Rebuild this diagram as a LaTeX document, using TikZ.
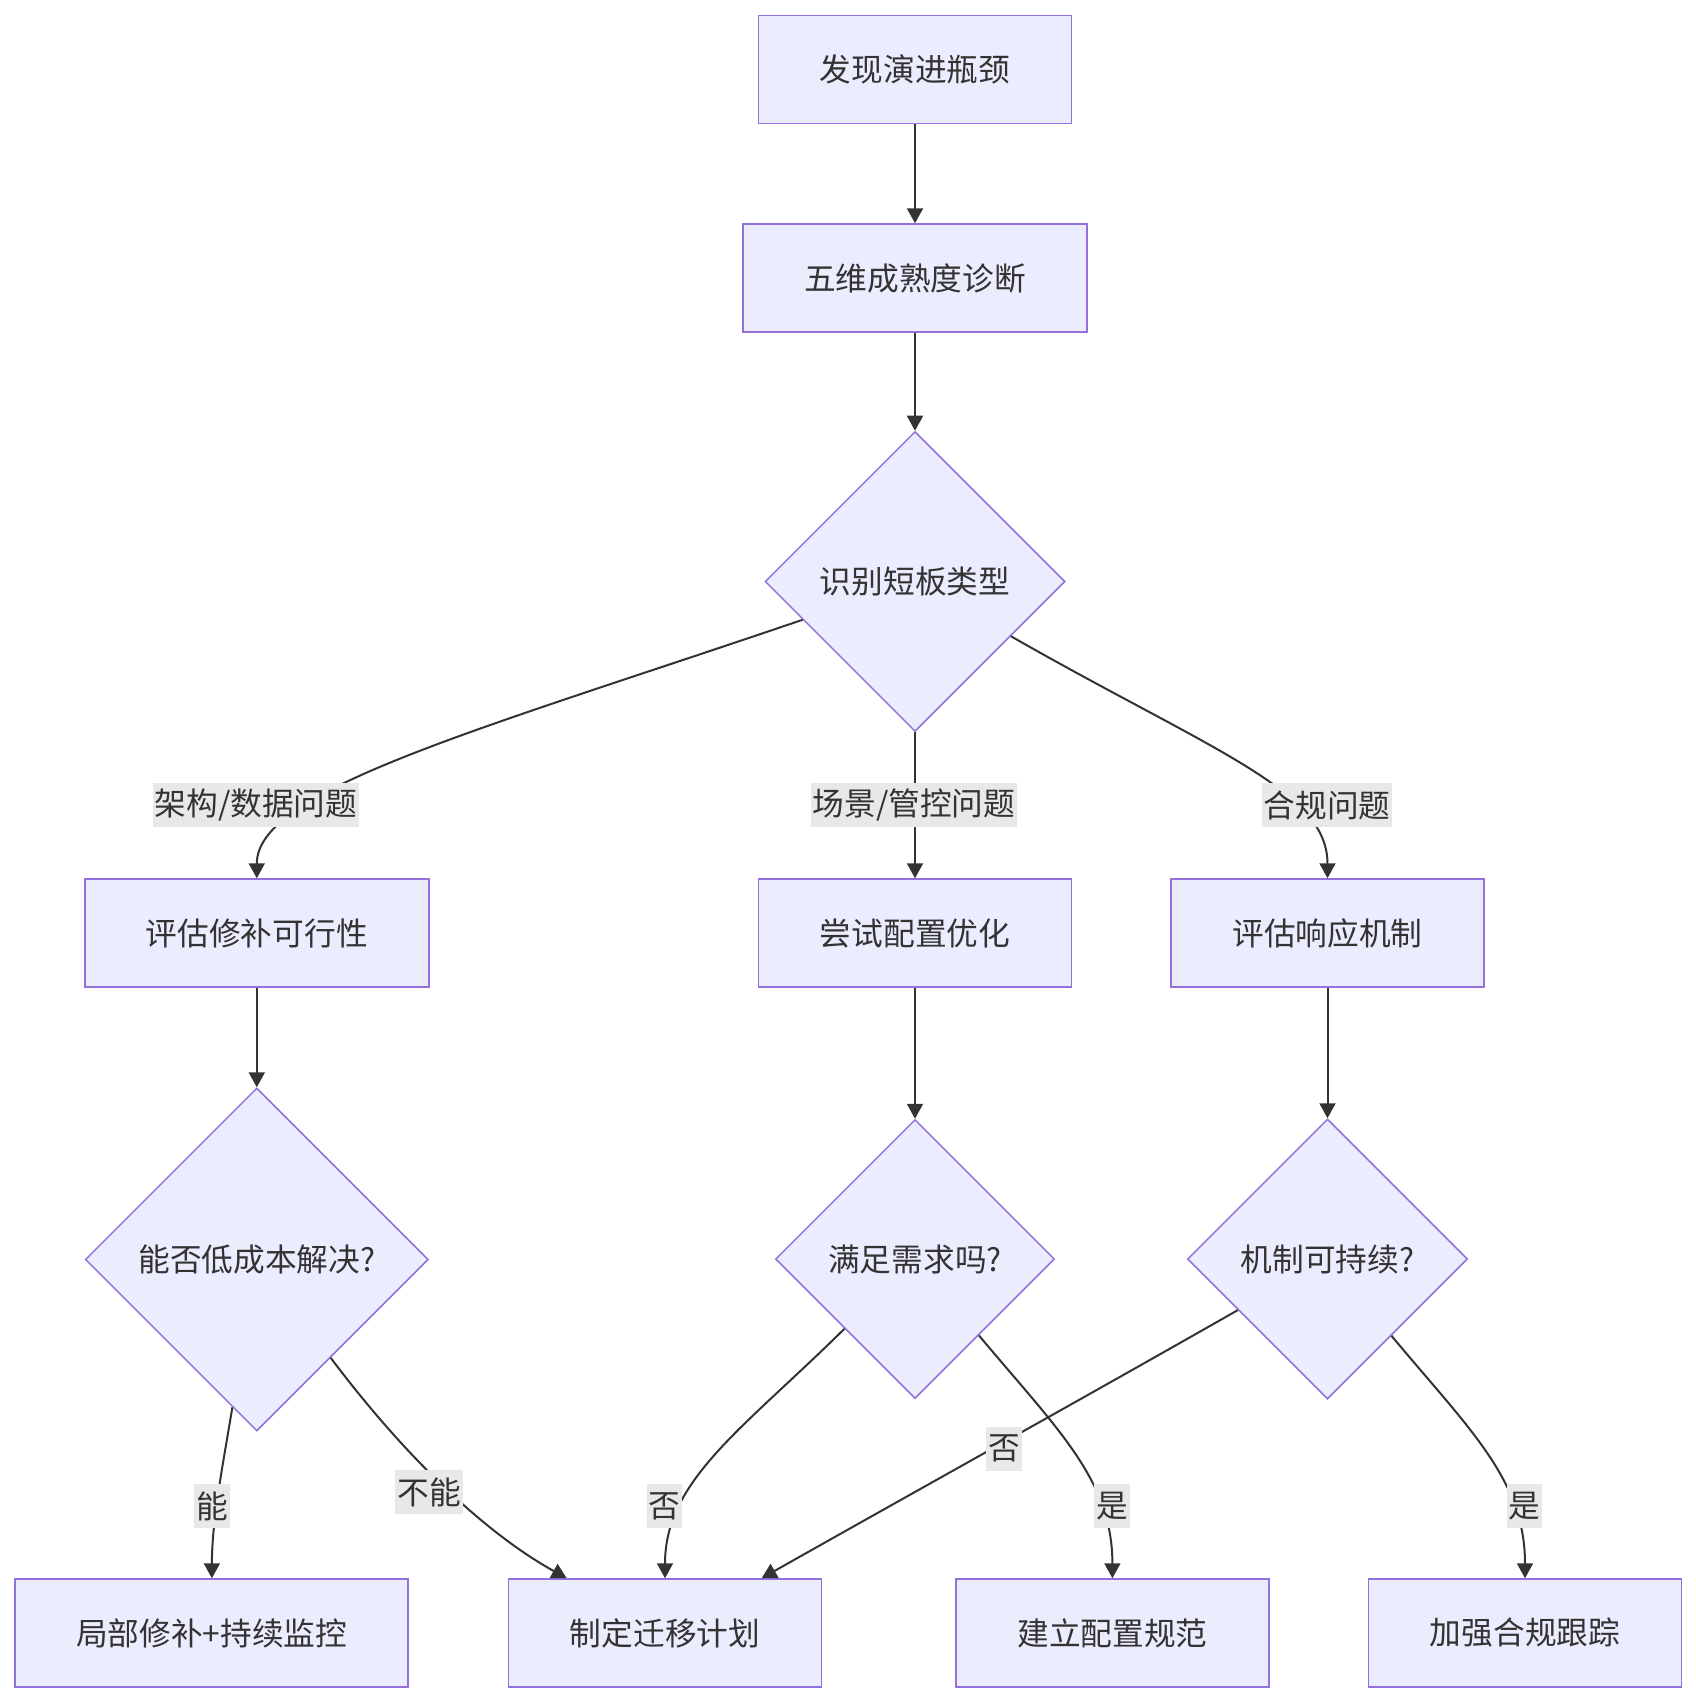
\documentclass[tikz,border=0pt]{standalone}
\usepackage{fontspec}
\usepackage{xcolor}
\usetikzlibrary{shapes.geometric,arrows.meta}
\setmainfont{Noto Sans CJK SC}
\definecolor{nodefill}{HTML}{ECECFF}
\definecolor{nodeline}{HTML}{9370DB}
\definecolor{edgeline}{HTML}{333333}
\definecolor{lblfill}{HTML}{E8E8E8}

\begin{document}
\begin{tikzpicture}[
		x=1pt, y=-1pt,
		box/.style={
			draw=nodeline, fill=nodefill, line width=1.5pt, rectangle,
			minimum width=313pt, minimum height=108pt, inner sep=0pt,
			font=\fontsize{31.7pt}{38pt}\selectfont, text=edgeline
		},
		wide/.style={box, minimum width=344pt},
		dec/.style={
			draw=nodeline, fill=nodefill, line width=1.5pt, diamond,
			shape aspect=1, inner sep=0pt,
			font=\fontsize{31.7pt}{38pt}\selectfont, text=edgeline
		},
		arr/.style={-{Triangle[length=15pt,width=16pt]}, line width=2pt, draw=edgeline},
		lbl/.style={
			fill=lblfill, inner xsep=2pt, inner ysep=0pt, minimum height=44pt,
			font=\fontsize{31.7pt}{38pt}\selectfont, text=edgeline
		},
		]
		
		\useasboundingbox (0,0) rectangle (1696,1703);
		
		\node[box]  (find)  at (915, 69.5) {发现演进瓶颈};
		\node[wide] (diag)  at (915, 278)  {五维成熟度诊断};
		\node[dec, minimum size=300pt] (kind) at (915, 581.5) {识别短板类型};
		
		\node[wide] (patch) at (256.8, 933)  {评估修补可行性};
		\node[box]  (tune)  at (915, 933)    {尝试配置优化};
		\node[box]  (resp)  at (1327.5, 933) {评估响应机制};
		
		\node[dec, minimum size=343pt] (cheap) at (256.8, 1259.5) {能否低成本解决?};
		\node[dec, minimum size=279pt] (meet)  at (915, 1259)     {满足需求吗?};
		\node[dec, minimum size=280pt] (keep)  at (1327.5, 1259)  {机制可持续?};
		
		\node[box, minimum width=393pt] (monitor) at (211.7, 1633) {局部修补+持续监控};
		\node[box] (migrate) at (665, 1633)    {制定迁移计划};
		\node[box] (spec)    at (1112.4, 1633) {建立配置规范};
		\node[box] (track)   at (1525, 1633)   {加强合规跟踪};
		
		% straight links
		\draw[arr] (find) -- (diag);
		\draw[arr] (diag) -- (kind);
		\draw[arr] (kind) -- (tune);
		\draw[arr] (patch) -- (cheap);
		\draw[arr] (tune) -- (meet);
		\draw[arr] (resp) -- (keep);
		
		% curved links
		\draw[arr] (kind) .. controls (473, 732) and (256.8, 790) .. (patch);
		\draw[arr] (kind) .. controls (1212, 751) and (1327.5, 790) .. (resp);
		\draw[arr] (cheap) .. controls (222, 1470) and (212, 1520) .. (monitor);
		\draw[arr] (cheap) .. controls (400, 1450) and (480, 1530) .. (migrate);
		\draw[arr] (meet) .. controls (743, 1429) and (665, 1480) .. (migrate);
		\draw[arr] (meet) .. controls (1058, 1430) and (1112.4, 1480) .. (spec);
		\draw[arr] (keep) .. controls (1080, 1400) and (900, 1500) .. (migrate);
		\draw[arr] (keep) .. controls (1470, 1430) and (1525, 1480) .. (track);
		
		% edge labels
		\node[lbl] (l-arch)  at (256, 805)    {架构/数据问题};
		\node[lbl] (l-scene) at (914, 805)    {场景/管控问题};
		\node[lbl] (l-comp)  at (1327, 805)   {合规问题};
		\node[lbl] (l-yes1)  at (212, 1506)   {能};
		\node[lbl] (l-no1)   at (429, 1492)   {不能};
		\node[lbl] (l-no2)   at (664.5, 1506) {否};
		\node[lbl] (l-no3)   at (1004, 1448.5) {否};
		\node[lbl] (l-yes2)  at (1112, 1506)  {是};
		\node[lbl] (l-yes3)  at (1524.5, 1506) {是};
		
	\end{tikzpicture}
\end{document}
